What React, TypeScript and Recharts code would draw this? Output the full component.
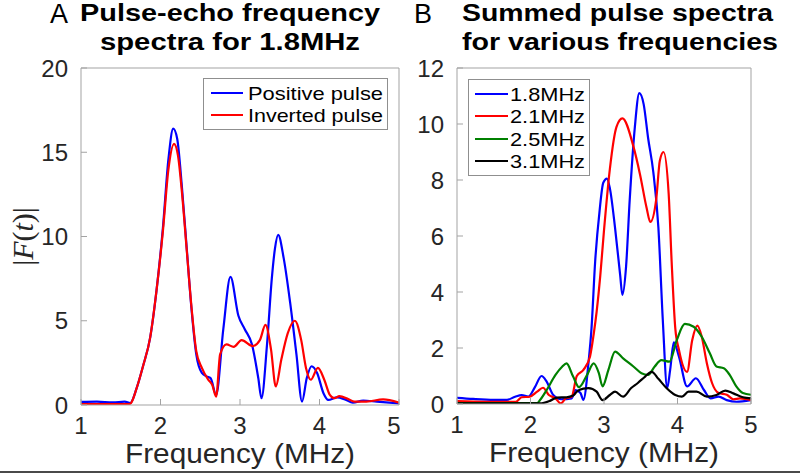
import React from 'react';
import { LineChart, Line, XAxis, YAxis, Legend } from 'recharts';

type Pt = [number, number];

// ---- text / ticks ----
const leftTitle = ['Pulse-echo frequency', 'spectra for 1.8MHz'];
const rightTitle = ['Summed pulse spectra', 'for various frequencies'];
const panelLetters = ['A', 'B'];
const xLabel = 'Frequency (MHz)';
const xTicks = [1, 2, 3, 4, 5];
const leftYTicks = [0, 5, 10, 15, 20];
const rightYTicks = [0, 2, 4, 6, 8, 10, 12];

// ---- panel A : pulse-echo spectra for 1.8 MHz ----
const positivePulse: Pt[] = [
  [1.0, 0.18], [1.2, 0.2], [1.4, 0.15], [1.55, 0.2], [1.62, 0.12], [1.7, 1.0], [1.78, 2.3],
  [1.87, 4.0], [1.95, 6.8], [2.03, 10.5], [2.1, 14.6], [2.16, 16.4], [2.21, 15.8], [2.27, 12.9],
  [2.33, 9.3], [2.39, 5.7], [2.45, 3.0], [2.52, 1.9], [2.58, 1.7], [2.63, 1.6], [2.7, 0.6],
  [2.79, 4.5], [2.88, 7.6], [2.98, 5.3], [3.06, 4.5], [3.15, 3.6], [3.23, 1.6], [3.27, 0.4],
  [3.34, 3.6], [3.4, 7.5], [3.44, 9.3], [3.48, 10.1], [3.55, 8.7], [3.63, 6.1], [3.71, 3.0],
  [3.78, 0.2], [3.84, 1.6], [3.9, 2.3], [3.97, 1.9], [4.05, 0.7], [4.11, 0.3], [4.22, 0.45],
  [4.32, 0.33], [4.42, 0.14], [4.55, 0.26], [4.72, 0.2], [5.0, 0.1],
];
const invertedPulse: Pt[] = [
  [1.0, 0.05], [1.3, 0.05], [1.6, 0.05], [1.63, 0.12], [1.7, 1.0], [1.78, 2.3], [1.87, 4.0],
  [1.95, 6.8], [2.03, 10.3], [2.1, 14.0], [2.17, 15.5], [2.22, 14.8], [2.27, 12.6], [2.33, 9.2],
  [2.39, 5.8], [2.45, 3.2], [2.52, 2.2], [2.6, 1.5], [2.65, 1.2], [2.7, 0.5], [2.75, 3.0],
  [2.83, 3.6], [2.92, 3.45], [3.02, 3.85], [3.16, 3.5], [3.25, 3.85], [3.32, 4.75], [3.39, 3.3],
  [3.45, 1.1], [3.52, 2.7], [3.6, 4.25], [3.69, 5.0], [3.77, 3.85], [3.83, 2.2], [3.89, 1.5],
  [3.98, 2.2], [4.06, 1.5], [4.13, 0.6], [4.19, 0.4], [4.25, 0.53], [4.36, 0.36], [4.44, 0.2],
  [4.59, 0.2], [4.8, 0.33], [5.0, 0.14],
];

// ---- panel B : summed pulse spectra ----
const sum18: Pt[] = [
  [1.0, 0.22], [1.22, 0.18], [1.5, 0.15], [1.68, 0.15], [1.79, 0.26], [1.88, 0.32], [1.97, 0.26],
  [2.06, 0.6], [2.15, 1.0], [2.22, 0.8], [2.31, 0.32], [2.42, 0.17], [2.56, 0.2], [2.61, 0.5],
  [2.68, 0.39], [2.72, 0.15], [2.79, 1.5], [2.83, 2.7], [2.88, 5.1], [2.94, 6.9], [2.99, 7.9],
  [3.04, 8.05], [3.08, 7.7], [3.15, 6.3], [3.22, 4.6], [3.25, 3.9], [3.3, 4.9], [3.35, 7.3],
  [3.42, 9.9], [3.48, 11.1], [3.54, 10.7], [3.6, 9.5], [3.67, 8.3], [3.74, 6.3], [3.8, 3.0],
  [3.86, 0.57], [3.9, 1.22], [3.95, 2.2], [4.02, 1.69], [4.13, 0.63], [4.25, 0.92], [4.36, 0.5],
  [4.45, 0.2], [4.56, 0.26], [4.67, 0.14], [4.8, 0.08], [5.0, 0.14],
];
const sum21: Pt[] = [
  [1.0, 0.1], [1.4, 0.08], [1.8, 0.08], [1.88, 0.24], [1.99, 0.26], [2.09, 0.44], [2.17, 0.58],
  [2.25, 0.32], [2.34, 0.2], [2.41, 0.02], [2.48, 0.2], [2.56, 0.26], [2.63, 1.0], [2.72, 1.22],
  [2.81, 1.7], [2.86, 2.5], [2.9, 3.3], [2.95, 4.6], [3.0, 6.2], [3.08, 8.4], [3.17, 9.9],
  [3.25, 10.2], [3.4, 9.2], [3.49, 8.2], [3.58, 7.0], [3.63, 6.5], [3.71, 7.3], [3.76, 8.7],
  [3.81, 9.0], [3.88, 7.5], [3.92, 5.1], [3.97, 2.7], [4.02, 1.93], [4.13, 1.15], [4.2, 2.28],
  [4.27, 2.8], [4.33, 2.4], [4.4, 1.45], [4.47, 0.75], [4.56, 0.39], [4.67, 0.33], [4.76, 0.17],
  [4.85, 0.2], [4.94, 0.17], [5.0, 0.14],
];
const sum25: Pt[] = [
  [1.0, 0.03], [1.5, 0.03], [2.09, 0.03], [2.13, 0.14], [2.22, 0.5], [2.34, 1.04], [2.43, 1.33],
  [2.49, 1.45], [2.58, 0.98], [2.66, 0.6], [2.77, 1.04], [2.86, 1.45], [2.93, 1.1], [2.98, 0.63],
  [3.06, 1.22], [3.15, 1.87], [3.26, 1.63], [3.4, 1.34], [3.51, 1.1], [3.6, 1.04], [3.69, 1.34],
  [3.78, 1.57], [3.89, 1.51], [3.99, 2.28], [4.1, 2.86], [4.22, 2.76], [4.33, 2.4], [4.44, 1.81],
  [4.53, 1.34], [4.63, 1.28], [4.71, 1.04], [4.8, 0.63], [4.89, 0.39], [5.0, 0.33],
];
const sum31: Pt[] = [
  [1.0, 0.02], [1.5, 0.02], [2.13, 0.02], [2.27, 0.12], [2.36, 0.23], [2.49, 0.24], [2.58, 0.3],
  [2.63, 0.44], [2.72, 0.55], [2.79, 0.57], [2.9, 0.44], [2.98, 0.14], [3.08, 0.32], [3.15, 0.44],
  [3.26, 0.26], [3.37, 0.57], [3.46, 0.75], [3.56, 0.98], [3.65, 1.15], [3.74, 0.9], [3.85, 0.57],
  [3.97, 0.32], [4.06, 0.26], [4.15, 0.44], [4.26, 0.44], [4.4, 0.26], [4.53, 0.32], [4.65, 0.48],
  [4.76, 0.38], [4.89, 0.24], [5.0, 0.2],
];

const leftSeries = [
  { name: 'Positive pulse', color: '#0000ff', pts: positivePulse },
  { name: 'Inverted pulse', color: '#ff0000', pts: invertedPulse },
];
const rightSeries = [
  { name: '1.8MHz', color: '#0000ff', pts: sum18 },
  { name: '2.1MHz', color: '#ff0000', pts: sum21 },
  { name: '2.5MHz', color: '#008000', pts: sum25 },
  { name: '3.1MHz', color: '#000000', pts: sum31 },
];

const toRows = (pts: Pt[]) => pts.map(([f, v]) => ({ f, v }));

const SANS = '"Liberation Sans", Arial, Helvetica, sans-serif';
const AXIS = '#a3a3a3';
const TEXT = '#262626';
const tickStyle = { fontSize: 24, fill: TEXT, fontFamily: SANS };

const renderXLabel = (props: any) => {
  const vb = props.viewBox || {};
  const cx = vb.x + vb.width / 2;
  return (
    <text x={cx} y={vb.y + 58} textAnchor="middle" fontFamily={SANS} fontSize={27} fill={TEXT}
      textLength={230} lengthAdjust="spacingAndGlyphs">{xLabel}</text>
  );
};

const renderYLabel = (props: any) => {
  const vb = props.viewBox || {};
  const cx = vb.x + 22;
  const cy = vb.y + vb.height / 2;
  return (
    <text x={cx} y={cy} transform={`rotate(-90 ${cx} ${cy})`} textAnchor="middle"
      dominantBaseline="central" fontFamily='"Liberation Serif", "Times New Roman", serif'
      fontSize={30} fill={TEXT}>
      <tspan>|</tspan><tspan fontStyle="italic">F</tspan><tspan>(</tspan>
      <tspan fontStyle="italic">t</tspan><tspan>)|</tspan>
    </text>
  );
};

const makeLegend = (order: string[], w: number, h: number, rows: number[], lx: [number, number], tx: number, tLen: number) =>
  (props: any) => {
    const payload = [...(props.payload || [])].sort(
      (a: any, b: any) => order.indexOf(a.value) - order.indexOf(b.value),
    );
    return (
      <svg width={w} height={h} style={{ display: 'block' }}>
        <rect x={0.5} y={0.5} width={w - 1} height={h - 1} fill="#ffffff" stroke="#8f8f8f" strokeWidth={1} />
        {payload.map((p: any, i: number) => (
          <g key={i}>
            <line x1={lx[0]} x2={lx[1]} y1={rows[i]} y2={rows[i]} stroke={p.color} strokeWidth={2} />
            <text x={tx} y={rows[i]} dy="0.36em" fontFamily={SANS} fontSize={19} fill="#000"
              textLength={tLen} lengthAdjust="spacingAndGlyphs">{p.value}</text>
          </g>
        ))}
      </svg>
    );
  };

const leftLegend = makeLegend(leftSeries.map((s) => s.name), 185, 52, [15, 37], [8, 40], 45, 135);
const rightLegend = makeLegend(rightSeries.map((s) => s.name), 122, 97, [15, 37, 60, 82], [7, 40], 42, 75);

export default function App() {
  return (
    <div style={{ position: 'absolute', left: 0, top: 0, width: 800, height: 473, background: '#fff', overflow: 'hidden' }}>
      <svg width={800} height={60} style={{ position: 'absolute', left: 0, top: 0 }}>
        <text x={50} y={23} fontFamily={SANS} fontSize={27} fill="#000">{panelLetters[0]}</text>
        <text x={80} y={21} fontFamily={SANS} fontWeight="bold" fontSize={23} fill="#000"
          textLength={300} lengthAdjust="spacingAndGlyphs">{leftTitle[0]}</text>
        <text x={100} y={50} fontFamily={SANS} fontWeight="bold" fontSize={23} fill="#000"
          textLength={260} lengthAdjust="spacingAndGlyphs">{leftTitle[1]}</text>
        <text x={414} y={23} fontFamily={SANS} fontSize={27} fill="#000">{panelLetters[1]}</text>
        <text x={462} y={21} fontFamily={SANS} fontWeight="bold" fontSize={23} fill="#000"
          textLength={311} lengthAdjust="spacingAndGlyphs">{rightTitle[0]}</text>
        <text x={462} y={50} fontFamily={SANS} fontWeight="bold" fontSize={23} fill="#000"
          textLength={316} lengthAdjust="spacingAndGlyphs">{rightTitle[1]}</text>
      </svg>

      <div style={{ position: 'absolute', left: 0, top: 0 }}>
        <LineChart width={400} height={473} margin={{ top: 67, right: 0, bottom: 0, left: 0 }}>
          <XAxis dataKey="f" type="number" domain={[1, 5]} ticks={xTicks} allowDataOverflow
            height={68} tickSize={-6} tickMargin={18} stroke={AXIS} tick={tickStyle}
            label={{ content: renderXLabel }} />
          <XAxis xAxisId="top" orientation="top" dataKey="f" type="number" domain={[1, 5]} ticks={xTicks}
            allowDataOverflow height={1} tickSize={-6} tick={false} stroke={AXIS} />
          <YAxis type="number" domain={[0, 20]} ticks={leftYTicks} allowDataOverflow width={81}
            tickSize={-6} tickMargin={19} stroke={AXIS} tick={tickStyle}
            label={{ content: renderYLabel }} />
          <YAxis yAxisId="right" orientation="right" type="number" domain={[0, 20]} ticks={leftYTicks}
            allowDataOverflow width={1} tickSize={-6} tick={false} stroke={AXIS} />
          {leftSeries.map((s) => (
            <Line key={s.name} data={toRows(s.pts)} dataKey="v" name={s.name} type="monotone"
              stroke={s.color} strokeWidth={2.2} dot={false} activeDot={false} isAnimationActive={false} />
          ))}
          <Legend layout="vertical" align="center" verticalAlign="middle" content={leftLegend}
            wrapperStyle={{ left: 203, top: 78, width: 185, height: 52 }} />
        </LineChart>
      </div>

      <div style={{ position: 'absolute', left: 400, top: 0 }}>
        <LineChart width={400} height={473} margin={{ top: 67, right: 48, bottom: 0, left: 0 }}>
          <XAxis dataKey="f" type="number" domain={[1, 5]} ticks={xTicks} allowDataOverflow
            height={69} tickSize={-6} tickMargin={18} stroke={AXIS} tick={tickStyle}
            label={{ content: renderXLabel }} />
          <XAxis xAxisId="top" orientation="top" dataKey="f" type="number" domain={[1, 5]} ticks={xTicks}
            allowDataOverflow height={1} tickSize={-6} tick={false} stroke={AXIS} />
          <YAxis type="number" domain={[0, 12]} ticks={rightYTicks} allowDataOverflow width={57}
            tickSize={-6} tickMargin={19} stroke={AXIS} tick={tickStyle} />
          <YAxis yAxisId="right" orientation="right" type="number" domain={[0, 12]} ticks={rightYTicks}
            allowDataOverflow width={1} tickSize={-6} tick={false} stroke={AXIS} />
          {rightSeries.map((s) => (
            <Line key={s.name} data={toRows(s.pts)} dataKey="v" name={s.name} type="monotone"
              stroke={s.color} strokeWidth={2.2} dot={false} activeDot={false} isAnimationActive={false} />
          ))}
          <Legend layout="vertical" align="center" verticalAlign="middle" content={rightLegend}
            wrapperStyle={{ left: 68, top: 79, width: 122, height: 97 }} />
        </LineChart>
      </div>

      <div style={{ position: 'absolute', left: 0, top: 471, width: 800, height: 2, background: '#4a4a4a' }} />
    </div>
  );
}
